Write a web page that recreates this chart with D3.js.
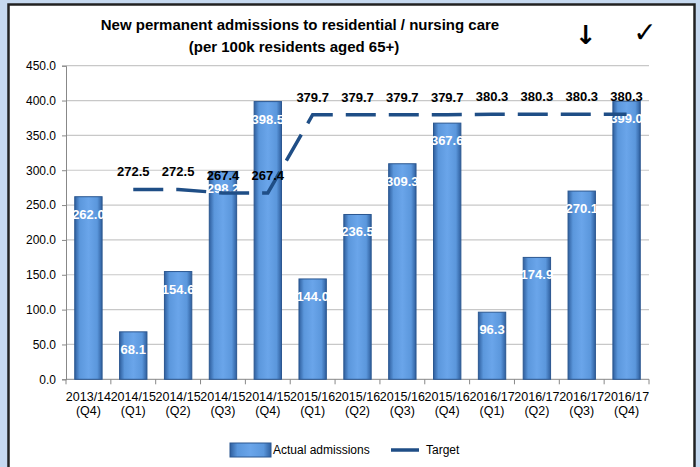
<!DOCTYPE html>
<html>
<head>
<meta charset="utf-8">
<script src="https://cdn.jsdelivr.net/npm/d3@7"></script>
<style>
  body { margin: 0; background: #c6d9f0; }
  svg { display: block; font-family: "Liberation Sans", Arial, sans-serif; }
</style>
</head>
<body>
<script>
var years = ["2013/14", "2014/15", "2014/15", "2014/15", "2014/15", "2015/16", "2015/16", "2015/16", "2015/16", "2016/17", "2016/17", "2016/17", "2016/17"];
var quarters = ["(Q4)", "(Q1)", "(Q2)", "(Q3)", "(Q4)", "(Q1)", "(Q2)", "(Q3)", "(Q4)", "(Q1)", "(Q2)", "(Q3)", "(Q4)"];
var actual = [262.0, 68.1, 154.6, 298.2, 398.5, 144.0, 236.5, 309.3, 367.6, 96.3, 174.9, 270.1, 399.0];
var target = [null, 272.5, 272.5, 267.4, 267.4, 379.7, 379.7, 379.7, 379.7, 380.3, 380.3, 380.3, 380.3];
var yTicks = [0, 50, 100, 150, 200, 250, 300, 350, 400, 450];

var width = 700, height = 467;
var plotLeft = 66, plotRight = 649, plotTop = 65.7, plotBottom = 379.3;

var svg = d3.select("body").append("svg")
    .attr("width", width)
    .attr("height", height);

// panel
svg.append("rect")
    .attr("x", 8.5).attr("y", 4.5)
    .attr("width", 686).attr("height", 480)
    .attr("fill", "#fff")
    .attr("stroke", "#222")
    .attr("stroke-width", 2.5);

var defs = svg.append("defs");
var grad = defs.append("linearGradient").attr("id", "barGrad")
    .attr("x1", "0%").attr("x2", "100%").attr("y1", "0%").attr("y2", "0%");
[["0%", "#2f5f9e"], ["18%", "#5b97dc"], ["50%", "#6aa5ea"], ["82%", "#5b97dc"], ["100%", "#2f5f9e"]]
    .forEach(function (s) { grad.append("stop").attr("offset", s[0]).attr("stop-color", s[1]); });

var x = d3.scaleBand()
    .domain(d3.range(actual.length))
    .range([plotLeft, plotRight])
    .paddingInner(0.39)
    .paddingOuter(0.195);

var y = d3.scaleLinear().domain([0, 450]).range([plotBottom, plotTop]);

// gridlines
svg.append("g").selectAll("line")
    .data(yTicks.slice(1))
    .enter().append("line")
    .attr("x1", plotLeft).attr("x2", plotRight)
    .attr("y1", d => y(d)).attr("y2", d => y(d))
    .attr("stroke", "#c8c8c8")
    .attr("stroke-width", 1.2);

// y axis
var yAxis = svg.append("g")
    .attr("transform", "translate(" + plotLeft + ",0)")
    .call(d3.axisLeft(y).tickValues(yTicks).tickFormat(d3.format(".1f")).tickSize(4).tickPadding(6));
yAxis.selectAll("text").attr("font-size", 12).attr("fill", "#000").attr("font-family", "Liberation Sans, Arial");
yAxis.selectAll("line").attr("stroke", "#888");
yAxis.select(".domain").attr("stroke", "#888");

// x axis line and ticks at band boundaries
svg.append("line")
    .attr("x1", plotLeft).attr("x2", plotRight)
    .attr("y1", plotBottom).attr("y2", plotBottom)
    .attr("stroke", "#888");
var step = x.step();
svg.append("g").selectAll("line")
    .data(d3.range(actual.length + 1))
    .enter().append("line")
    .attr("x1", i => plotLeft + i * step).attr("x2", i => plotLeft + i * step)
    .attr("y1", plotBottom).attr("y2", plotBottom + 5)
    .attr("stroke", "#888");

var xLabels = svg.append("g").selectAll("text")
    .data(d3.range(actual.length))
    .enter().append("text")
    .attr("x", i => x(i) + x.bandwidth() / 2)
    .attr("y", plotBottom + 22)
    .attr("text-anchor", "middle")
    .attr("font-size", 12.5)
    .attr("fill", "#000");
xLabels.append("tspan").text(i => years[i]);
xLabels.append("tspan")
    .attr("x", i => x(i) + x.bandwidth() / 2)
    .attr("dy", 14)
    .text(i => quarters[i]);

// bars
svg.append("g").selectAll("rect")
    .data(actual)
    .enter().append("rect")
    .attr("x", (d, i) => x(i))
    .attr("y", d => y(d))
    .attr("width", x.bandwidth())
    .attr("height", d => plotBottom - y(d))
    .attr("fill", "url(#barGrad)")
    .attr("stroke", "#2b5790")
    .attr("stroke-width", 1);

// bar labels
svg.append("g").selectAll("text")
    .data(actual)
    .enter().append("text")
    .attr("x", (d, i) => x(i) + x.bandwidth() / 2)
    .attr("y", d => y(d) + 22)
    .attr("text-anchor", "middle")
    .attr("font-size", 13)
    .attr("font-weight", "bold")
    .attr("fill", "#fff")
    .text(d => d.toFixed(1));

// target line
var line = d3.line()
    .defined(d => d != null)
    .x((d, i) => x(i) + x.bandwidth() / 2)
    .y(d => y(d));
svg.append("path")
    .datum(target)
    .attr("d", line)
    .attr("fill", "none")
    .attr("stroke", "#1f4e86")
    .attr("stroke-width", 3.5)
    .attr("stroke-dasharray", "30,13");

svg.append("g").selectAll("text")
    .data(d3.range(target.length).filter(i => target[i] != null))
    .enter().append("text")
    .attr("x", i => x(i) + x.bandwidth() / 2)
    .attr("y", i => y(target[i]) - 13)
    .attr("text-anchor", "middle")
    .attr("font-size", 13)
    .attr("font-weight", "bold")
    .attr("fill", "#000")
    .text(i => target[i].toFixed(1));

// title
var title = svg.append("text")
    .attr("text-anchor", "middle")
    .attr("font-size", 15)
    .attr("font-weight", "bold")
    .attr("fill", "#000");
title.append("tspan").attr("x", 300).attr("y", 30).text("New permanent admissions to residential / nursing care");
title.append("tspan").attr("x", 294).attr("y", 52).text("(per 100k residents aged 65+)");

svg.append("text").attr("x", 586).attr("y", 44).attr("text-anchor", "middle")
    .attr("font-size", 26).attr("font-weight", "bold").attr("font-family", "DejaVu Sans").text("↓");
svg.append("text").attr("x", 645).attr("y", 42).attr("text-anchor", "middle")
    .attr("font-size", 28).attr("font-weight", "bold").attr("font-family", "DejaVu Sans").text("✓");

// legend
var legend = svg.append("g");
legend.append("rect")
    .attr("x", 230).attr("y", 443).attr("width", 41).attr("height", 14)
    .attr("fill", "url(#barGrad)").attr("stroke", "#2b5790");
legend.append("text").attr("x", 273).attr("y", 454).attr("font-size", 12).text("Actual admissions");
legend.append("line")
    .attr("x1", 391).attr("x2", 419).attr("y1", 450).attr("y2", 450)
    .attr("stroke", "#1f4e86").attr("stroke-width", 3.5);
legend.append("text").attr("x", 426).attr("y", 454).attr("font-size", 12).text("Target");
</script>
</body>
</html>
